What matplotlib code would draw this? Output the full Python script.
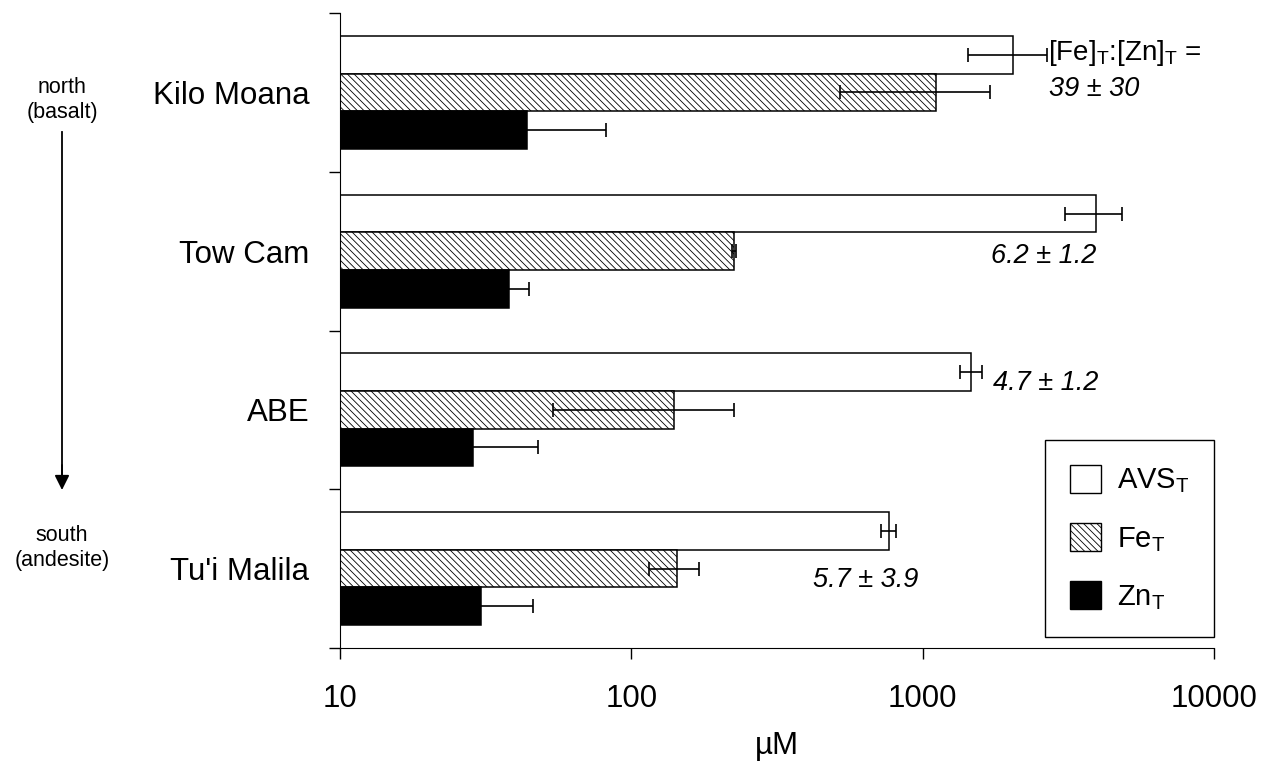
import numpy as np
import matplotlib.pyplot as plt
from matplotlib.patches import Patch

plt.rcParams['font.family'] = ['Liberation Sans', 'DejaVu Sans']
plt.rcParams['hatch.linewidth'] = 0.6

sites  = ['Kilo Moana', 'Tow Cam', 'ABE', "Tu'i Malila"]
avs    = [2050, 3950, 1470, 765]
avs_e  = [620, 870, 125, 45]
fe     = [1110, 225, 140, 143]
fe_e   = [590, 4, 86, 28]
zn     = [43.7, 37.9, 28.5, 30.4]
zn_e   = [38, 6.5, 19.5, 15.5]
ratios = ['39 ± 30', '6.2 ± 1.2', '4.7 ± 1.2', '5.7 ± 3.9']

fig = plt.figure(figsize=(12.64, 7.63), dpi=100)
ax = fig.add_axes([340/1264, 1-648/763, 874/1264, 635/763])

y = np.arange(len(sites))
h = 0.237
hatch = '\\' * 5
series = [(avs, avs_e, -h, dict(facecolor='white')),
          (fe, fe_e, 0, dict(facecolor='white', hatch=hatch)),
          (zn, zn_e, h, dict(facecolor='black'))]
for vals, errs, off, style in series:
    ax.barh(y + off, vals, height=h, edgecolor='black', linewidth=1.1, zorder=2, **style)
    ax.errorbar(vals, y + off, xerr=errs, fmt='none', ecolor='black',
                elinewidth=1.2, capsize=5, capthick=1.2, zorder=3)

ax.set_xscale('log')
ax.set_xlim(10, 10000)
ax.set_ylim(len(sites) - 0.5, -0.5)
ax.set_xticks([10, 100, 1000, 10000])
ax.set_xticklabels(['10', '100', '1000', '10000'])
ax.xaxis.set_minor_locator(plt.NullLocator())
ax.set_yticks(np.arange(len(sites) + 1) - 0.5)
ax.set_yticklabels([])
ax.set_yticks(y, minor=True)
ax.set_yticklabels(sites, minor=True)
ax.tick_params(axis='y', which='minor', length=0, pad=22, labelsize=22.5)
ax.tick_params(axis='y', which='major', length=8, width=1, direction='out')
ax.tick_params(axis='x', which='major', length=8, width=1, direction='out',
               pad=18, labelsize=22.5)
for s in ['top', 'right']:
    ax.spines[s].set_visible(False)
ax.set_xlabel('µM', fontsize=22.5, labelpad=12)

# ratio annotations
ax.text(2700, -0.25, r'[Fe]$_\mathregular{T}$:[Zn]$_\mathregular{T}$ =',
        fontsize=20, va='center', ha='left')
pos = [(2720, -0.02), (1720, 1.03), (1750, 1.83), (420, 3.07)]
for (px, py), r in zip(pos, ratios):
    ax.text(px, py, r, fontsize=19.5, style='italic', va='center', ha='left')

# north/south arrow
fig.text(62/1264, 1-100/763, 'north\n(basalt)', fontsize=15.5, ha='center',
         va='center', linespacing=1.25)
fig.text(62/1264, 1-548/763, 'south\n(andesite)', fontsize=15.5, ha='center',
         va='center', linespacing=1.25)
fig.add_artist(plt.Line2D([62/1264]*2, [1-132/763, 1-475/763], color='black', lw=1.3))
ax.annotate('', xy=(62/1264, 1-490/763), xytext=(62/1264, 1-465/763),
            xycoords='figure fraction',
            arrowprops=dict(arrowstyle='-|>', color='black', lw=1.3,
                            mutation_scale=22, shrinkA=0, shrinkB=0))

handles = [Patch(facecolor='white', edgecolor='black'),
           Patch(facecolor='white', edgecolor='black', hatch=hatch),
           Patch(facecolor='black', edgecolor='black')]
labels = [r'AVS$_\mathregular{T}$', r'Fe$_\mathregular{T}$', r'Zn$_\mathregular{T}$']
leg = ax.legend(handles, labels, loc='lower right', bbox_to_anchor=(1.0, 11/635),
                borderaxespad=0, fontsize=21, frameon=True, fancybox=False,
                edgecolor='black', framealpha=1, handlelength=1.05, handleheight=1.1,
                handletextpad=0.55, labelspacing=0.95, borderpad=0.85)
leg.get_frame().set_linewidth(1.0)

plt.savefig('out.png', dpi=100)
